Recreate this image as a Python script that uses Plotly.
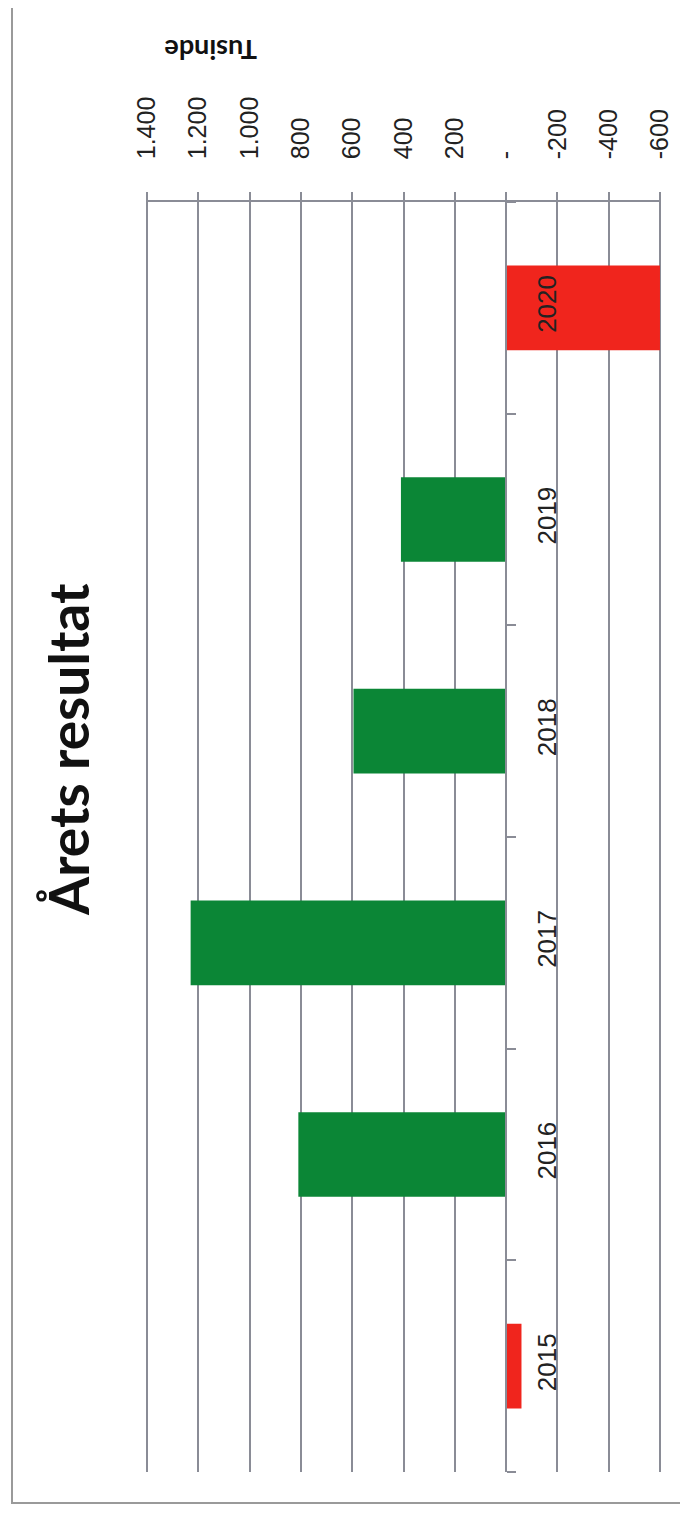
import plotly.graph_objects as go

years = ["2015", "2016", "2017", "2018", "2019", "2020"]
values = [-60, 810, 1230, 595, 410, -600]
tick_vals = [1400, 1200, 1000, 800, 600, 400, 200, 0, -200, -400, -600]
tick_text = ["1.400", "1.200", "1.000", "800", "600", "400", "200", "-", "-200", "-400", "-600"]
title_text = "Årets resultat"
unit_text = "Tusinde"

OFF = 8  # default page body margin
W, H = 688 - 2 * OFF, 1514 - 2 * OFF
L = 146 - OFF
T = 202 - OFF
R = W - (661 - OFF)
B = H - (1472 - OFF)
pw, ph = W - L - R, H - T - B

def px_x(p):
    return (p - OFF - L) / pw

def px_y(p):
    return (H - B - (p - OFF)) / ph

GREEN = "#0b8636"
RED = "#f0251d"
colors = [RED if v < 0 else GREEN for v in values]
GRID = "#8a8c96"

x_min, x_max = -604, 1404
zero_pos = (x_max - 0) / (x_max - x_min)

fig = go.Figure(go.Bar(
    x=values, y=years, orientation="h",
    marker=dict(color=colors, line=dict(width=0)),
    width=0.4,
))

fig.update_layout(
    width=W, height=H,
    margin=dict(l=L, r=R, t=T, b=B, autoexpand=False),
    paper_bgcolor="white", plot_bgcolor="white",
    showlegend=False,
    xaxis=dict(
        range=[x_max, x_min], side="top",
        tickmode="array", tickvals=tick_vals, ticktext=tick_text,
        tickangle=-90, ticks="outside", ticklen=8, tickcolor=GRID, tickwidth=1.5,
        ticklabelstandoff=28,
        showline=True, linecolor=GRID, linewidth=1.5,
        showgrid=True, gridcolor=GRID, gridwidth=1.5,
        zeroline=False,
        tickfont=dict(family="Liberation Sans", size=25, color="#222"),
    ),
    yaxis=dict(
        type="category", categoryorder="array", categoryarray=years,
        anchor="free", position=zero_pos, side="right",
        showline=True, linecolor=GRID, linewidth=1.5,
        ticks="outside", tickson="boundaries", ticklen=9, tickcolor=GRID, tickwidth=1.5,
        tickangle=-90, ticklabelstandoff=18,
        showgrid=False, zeroline=False,
        tickfont=dict(family="Liberation Sans", size=26, color="#222"),
    ),
    annotations=[
        dict(text=title_text, xref="paper", yref="paper",
             x=px_x(68), y=px_y(750), showarrow=False, textangle=-90,
             font=dict(family="Lato", size=55, color="#111", weight="bold"),
             xanchor="center", yanchor="middle"),
        dict(text=unit_text, xref="paper", yref="paper",
             x=px_x(211), y=px_y(50), showarrow=False, textangle=180,
             font=dict(family="Lato", size=27, color="#111", weight="bold"),
             xanchor="center", yanchor="middle"),
    ],
    shapes=[
        dict(type="rect", xref="paper", yref="paper",
             x0=px_x(12), x1=px_x(720), y0=px_y(1503), y1=px_y(1),
             line=dict(color="#9a9a9a", width=2), fillcolor="rgba(0,0,0,0)", layer="below"),
    ],
)

fig.write_html("out.html")
